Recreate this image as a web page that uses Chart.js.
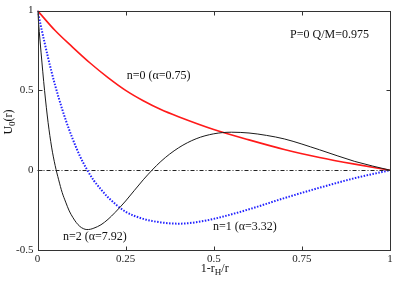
<!DOCTYPE html>
<html><head><meta charset="utf-8">
<script src="https://cdn.jsdelivr.net/npm/chart.js@4/dist/chart.umd.min.js"></script>
<style>html,body{margin:0;padding:0;background:#fff}#wrap{width:403px;height:283px}</style>
</head><body><div id="wrap"><canvas id="c" width="403" height="283"></canvas></div>
<script>
// n=0 (red)
const n0X = [0,0.05,0.1,0.15,0.2,0.25,0.3,0.35,0.4,0.5,0.6,0.7,0.8,0.9,1];
const n0Y = [1,0.875,0.77,0.67,0.58,0.5,0.435,0.38,0.335,0.255,0.19,0.13,0.08,0.038,0];
// n=1 (blue dotted)
const n1X = [0,0.02,0.04,0.06,0.08,0.1,0.12,0.14,0.16,0.18,0.2,0.25,0.3,0.35,0.4,0.45,0.5,0.6,0.7,0.8,0.9,1];
const n1Y = [1,0.80,0.615,0.455,0.315,0.195,0.09,0.005,-0.065,-0.12,-0.17,-0.26,-0.305,-0.327,-0.335,-0.326,-0.305,-0.245,-0.175,-0.11,-0.05,0];
// n=2 (black)
const n2X = [0,0.01,0.02,0.03,0.04,0.05,0.06,0.07,0.08,0.09,0.1,0.11,0.12,0.13,0.14,0.15,0.16,0.18,0.2,0.22,0.25,0.3,0.35,0.4,0.45,0.5,0.55,0.6,0.65,0.7,0.8,0.9,1];
const n2Y = [1,0.74,0.50,0.30,0.145,0.03,-0.06,-0.14,-0.2,-0.255,-0.295,-0.328,-0.352,-0.366,-0.372,-0.37,-0.363,-0.342,-0.308,-0.265,-0.193,-0.06,0.055,0.14,0.197,0.228,0.238,0.233,0.218,0.196,0.128,0.055,0];
const xTicks = [0,0.25,0.5,0.75,1];
const xTickLabels = ["0","0.25","0.5","0.75","1"];
const yTicks = [-0.5,0,0.5,1];
const yTickLabels = ["-0.5","0","0.5","1"];
const annotations = [
  {text:"P=0 Q/M=0.975", x:0.7165, y:0.848},
  {text:"n=0 (\u03b1=0.75)", x:0.253, y:0.59},
  {text:"n=1 (\u03b1=3.32)", x:0.498, y:-0.357},
  {text:"n=2 (\u03b1=7.92)", x:0.072, y:-0.42}
];
const pts = (xs, ys) => xs.map((x,i)=>({x:x, y:ys[i]}));
const SERIF = '"Liberation Serif","DejaVu Serif",serif';

const decor = {
  id:'decor',
  beforeDatasetsDraw(chart){
    const {ctx, chartArea:a, scales:{x,y}} = chart;
    ctx.save();
    ctx.strokeStyle = '#222'; ctx.lineWidth = 1;
    ctx.setLineDash([4,2,1,2]);
    const y0 = Math.round(y.getPixelForValue(0))+0.5;
    ctx.beginPath(); ctx.moveTo(a.left,y0); ctx.lineTo(a.right,y0); ctx.stroke();
    ctx.restore();
  },
  afterDatasetsDraw(chart){
    const {ctx, chartArea:a, scales:{x,y}} = chart;
    ctx.save();
    ctx.strokeStyle = '#333'; ctx.lineWidth = 1; ctx.setLineDash([]);
    const L=Math.round(a.left)+0.5, R=Math.round(a.right)+0.5, T=Math.round(a.top)+0.5, B=Math.round(a.bottom)+0.5;
    ctx.strokeRect(L,T,R-L,B-T);
    ctx.beginPath();
    xTicks.forEach(v=>{const p=Math.round(x.getPixelForValue(v))+0.5; ctx.moveTo(p,B); ctx.lineTo(p,B-4); ctx.moveTo(p,T); ctx.lineTo(p,T+4);});
    yTicks.forEach(v=>{const p=Math.round(y.getPixelForValue(v))+0.5; ctx.moveTo(L,p); ctx.lineTo(L+4,p); ctx.moveTo(R,p); ctx.lineTo(R-4,p);});
    ctx.stroke();
    // annotations
    ctx.fillStyle = '#111'; ctx.font = '12px '+SERIF; ctx.textBaseline='middle'; ctx.textAlign='left';
    annotations.forEach(an=>ctx.fillText(an.text, x.getPixelForValue(an.x), y.getPixelForValue(an.y)));
    // x title: 1-r_H/r
    ctx.textBaseline='alphabetic';
    const big='12px '+SERIF, small='9px '+SERIF;
    const parts=[["1-r",big,0],["H",small,3],["/r",big,0]];
    let w=0; parts.forEach(p=>{ctx.font=p[1]; w+=ctx.measureText(p[0]).width;});
    let cx=(a.left+a.right)/2 - w/2 + 1; const by=272;
    parts.forEach(p=>{ctx.font=p[1]; ctx.fillText(p[0],cx,by+p[2]); cx+=ctx.measureText(p[0]).width;});
    // y title: U_0(r)
    ctx.translate(12,122); ctx.rotate(-Math.PI/2);
    const yp=[["U",big,0],["0",small,3],["(r)",big,0]];
    w=0; yp.forEach(p=>{ctx.font=p[1]; w+=ctx.measureText(p[0]).width;});
    cx=-w/2;
    yp.forEach(p=>{ctx.font=p[1]; ctx.fillText(p[0],cx,p[2]); cx+=ctx.measureText(p[0]).width;});
    ctx.restore();
  }
};

new Chart(document.getElementById('c'), {
  type:'scatter',
  data:{datasets:[
    {label:'n=2', data:pts(n2X,n2Y), showLine:true, borderColor:'#1a1a1a', borderWidth:1, pointRadius:0, cubicInterpolationMode:'monotone'},
    {label:'n=0', data:pts(n0X,n0Y), showLine:true, borderColor:'#ff1a1a', borderWidth:1.6, pointRadius:0, cubicInterpolationMode:'monotone'},
    {label:'n=1', data:pts(n1X,n1Y), showLine:true, borderColor:'#2222ff', borderWidth:2, borderDash:[1.5,1.5], pointRadius:0, cubicInterpolationMode:'monotone'}
  ]},
  options:{
    responsive:false, animation:false, devicePixelRatio:1,
    layout:{padding:{top:10,right:13,left:0,bottom:0}},
    plugins:{legend:{display:false}, tooltip:{enabled:false}},
    scales:{
      x:{type:'linear', min:0, max:1,
         afterBuildTicks:s=>{s.ticks=xTicks.map(v=>({value:v}));},
         afterFit:s=>{s.height=33;},
         grid:{display:false, drawTicks:false}, border:{display:false},
         ticks:{padding:3, color:'#222', font:{family:SERIF,size:11}, maxRotation:0,
                callback:(v)=>xTickLabels[xTicks.indexOf(v)]}},
      y:{type:'linear', min:-0.5, max:1,
         afterBuildTicks:s=>{s.ticks=yTicks.map(v=>({value:v}));},
         afterFit:s=>{s.width=37.5;},
         grid:{display:false, drawTicks:false}, border:{display:false},
         ticks:{padding:4, color:'#222', font:{family:SERIF,size:11},
                callback:(v)=>yTickLabels[yTicks.indexOf(v)]}}
    }
  },
  plugins:[decor]
});
</script></body></html>
